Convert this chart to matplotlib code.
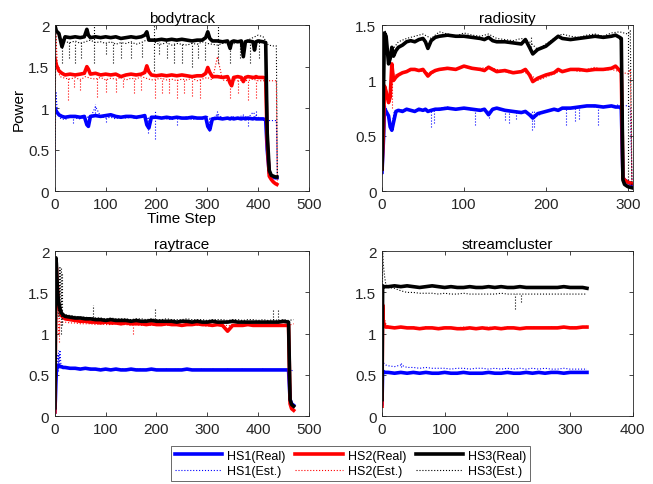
import matplotlib
matplotlib.use('Agg')
import matplotlib.pyplot as plt
from matplotlib.ticker import FuncFormatter

plt.rcParams['font.family'] = ['Liberation Sans', 'DejaVu Sans']

BLUE, RED, BLACK = '#0000ff', '#ff0000', '#000000'
labels = ['HS1(Real)', 'HS2(Real)', 'HS3(Real)', 'HS1(Est.)', 'HS2(Est.)', 'HS3(Est.)']

# ---------------- bodytrack ----------------
bt_t = [0, 3, 8, 14, 20, 30, 40, 50, 58, 63, 66, 70, 80, 90, 100, 110, 120, 130, 140, 150,
        160, 170, 177, 181, 185, 190, 200, 210, 220, 230, 240, 250, 260, 270, 280,
        290, 297, 301, 305, 310, 320, 330, 340, 345, 348, 352, 360, 367, 371, 375,
        380, 390, 393, 396, 400, 410, 415, 418, 422, 426, 430, 434, 437]
bt_hs1 = [1.0, 0.96, 0.92, 0.9, 0.89, 0.9, 0.9, 0.89, 0.9, 0.8,
          0.78, 0.9, 0.91, 0.9, 0.91, 0.92, 0.9, 0.89, 0.9, 0.9,
          0.89, 0.9, 0.91, 0.8, 0.76, 0.89, 0.89, 0.88, 0.89, 0.88,
          0.89, 0.88, 0.88, 0.89, 0.88, 0.88, 0.89, 0.78, 0.74, 0.87,
          0.88, 0.87, 0.88, 0.87, 0.88, 0.87, 0.88, 0.87, 0.88, 0.87,
          0.88, 0.87, 0.88, 0.87, 0.87, 0.87, 0.86, 0.5, 0.22, 0.18,
          0.17, 0.16, 0.16]
bt_hs2 = [1.6, 1.52, 1.45, 1.42, 1.4, 1.41, 1.4, 1.41, 1.42, 1.5,
          1.47, 1.41, 1.42, 1.4, 1.41, 1.4, 1.41, 1.38, 1.4, 1.41,
          1.4, 1.41, 1.43, 1.51, 1.44, 1.4, 1.39, 1.4, 1.39, 1.4,
          1.39, 1.4, 1.39, 1.38, 1.39, 1.39, 1.42, 1.49, 1.43, 1.38,
          1.38, 1.37, 1.38, 1.3, 1.27, 1.37, 1.38, 1.37, 1.32, 1.37,
          1.38, 1.37, 1.37, 1.38, 1.37, 1.37, 1.36, 0.6, 0.18, 0.14,
          0.11, 0.09, 0.08]
bt_hs3 = [2.0, 1.93, 1.9, 1.74, 1.86, 1.85, 1.86, 1.85, 1.86, 1.95,
          1.88, 1.85, 1.86, 1.85, 1.86, 1.85, 1.86, 1.84, 1.85, 1.86,
          1.85, 1.86, 1.88, 1.92, 1.82, 1.82, 1.82, 1.83, 1.82, 1.83,
          1.82, 1.83, 1.82, 1.81, 1.82, 1.82, 1.85, 1.92, 1.84, 1.81,
          1.81, 1.8, 1.81, 1.72, 1.8, 1.81, 1.8, 1.81, 1.62, 1.8,
          1.81, 1.8, 1.7, 1.8, 1.81, 1.8, 1.79, 0.7, 0.25, 0.19,
          0.18, 0.17, 0.17]
bt_est_t = [0, 2, 5, 10, 20, 30, 40, 50, 60, 70, 80, 90, 100, 110, 120, 130, 140, 150,
            160, 170, 180, 190, 200, 210, 220, 230, 240, 250, 260, 270, 280, 290, 300,
            310, 320, 330, 340, 350, 360, 370, 380, 390, 400, 410, 420, 430, 436, 438]
bt_hs1_est = [0.25, 1.2, 0.95, 0.88, 0.86, 0.9, 0.88, 0.87, 0.9, 0.88,
              1.02, 0.9, 0.88, 0.89, 0.87, 0.9, 0.88, 0.89, 0.87, 0.9,
              0.88, 0.86, 0.9, 0.88, 0.87, 0.86, 0.89, 0.87, 0.9, 0.86,
              0.88, 0.87, 0.9, 0.86, 0.93, 0.88, 0.86, 0.9, 0.87, 0.92,
              0.88, 0.95, 0.89, 0.86, 0.85, 0.85, 0.85, 0.15]
bt_hs2_est = [0.3, 1.9, 1.5, 1.38, 1.36, 1.35, 1.37, 1.34, 1.38, 1.36,
              1.35, 1.37, 1.34, 1.36, 1.35, 1.37, 1.34, 1.36, 1.35, 1.38,
              1.36, 1.34, 1.35, 1.36, 1.34, 1.35, 1.33, 1.35, 1.34, 1.36,
              1.33, 1.35, 1.37, 1.34, 1.62, 1.34, 1.33, 1.35, 1.33, 1.34,
              1.33, 1.35, 1.33, 1.33, 1.33, 1.33, 1.33, 0.1]
bt_hs3_est = [0.5, 2.0, 1.9, 1.82, 1.8, 1.79, 1.81, 1.78, 1.8, 1.82,
              1.79, 1.8, 1.78, 1.8, 1.77, 1.79, 1.78, 1.8, 1.77, 1.79,
              1.82, 1.83, 1.78, 1.77, 1.79, 1.76, 1.78, 1.77, 1.76, 1.78,
              1.77, 1.8, 1.78, 1.77, 1.76, 1.78, 1.79, 1.77, 1.8, 1.78,
              1.82, 1.85, 1.88, 1.86, 1.76, 1.75, 1.75, 0.15]
# dotted spikes of the estimates: (time step, low, high)
bt_hs1_dips = [(35, 0.82, 0.9), (65, 0.78, 0.9), (80, 0.9, 1.05), (100, 0.83, 0.9),
               (183, 0.7, 0.9), (198, 0.63, 0.97), (240, 0.8, 0.88), (303, 0.72, 0.88),
               (320, 0.88, 0.96), (380, 0.78, 0.88), (395, 0.88, 0.98)]
bt_hs2_dips = [(25, 1.1, 1.38), (38, 1.25, 1.36), (50, 1.22, 1.36), (82, 1.13, 1.36),
               (100, 1.2, 1.36), (120, 1.2, 1.36), (135, 1.25, 1.36), (155, 1.18, 1.36),
               (170, 1.22, 1.36), (198, 1.12, 1.36), (210, 1.18, 1.36), (225, 1.18, 1.35),
               (240, 1.12, 1.35), (255, 1.18, 1.35), (270, 1.15, 1.35), (285, 1.12, 1.35),
               (345, 1.12, 1.34), (360, 1.18, 1.34), (380, 1.1, 1.34), (395, 1.12, 1.34)]
bt_hs3_dips = [(14, 1.55, 1.85), (28, 1.6, 1.8), (40, 1.55, 1.8), (52, 1.6, 1.8),
               (78, 1.55, 2.0), (100, 1.65, 1.8), (115, 1.55, 1.8), (130, 1.6, 1.8),
               (150, 1.6, 1.8), (172, 1.62, 1.8), (195, 1.45, 2.0), (205, 1.65, 1.8),
               (220, 1.6, 1.78), (235, 1.55, 1.78), (250, 1.55, 1.78), (270, 1.5, 1.78),
               (282, 1.6, 1.78), (295, 1.58, 1.78), (322, 1.55, 2.0), (345, 1.55, 1.78),
               (365, 1.6, 1.78), (385, 1.55, 1.8), (402, 1.6, 1.85)]

# ---------------- radiosity ----------------
rd_t = [0, 2, 3, 5, 8, 10, 12, 14, 17, 20, 25, 30, 35, 40, 45, 50, 53, 56, 60, 65,
        70, 80, 90, 100, 110, 120, 125, 130, 135, 140, 150, 160, 170, 175, 180,
        184, 190, 200, 210, 215, 220, 230, 240, 250, 260, 270, 280, 285, 290, 292,
        294, 296, 300, 305]
rd_hs1 = [0.17, 0.5, 0.75, 0.72, 0.68, 0.58, 0.55, 0.62, 0.72, 0.73,
          0.72, 0.74, 0.73, 0.72, 0.74, 0.73, 0.74, 0.72, 0.73, 0.74,
          0.74, 0.75, 0.74, 0.75, 0.74, 0.73, 0.74, 0.69, 0.74, 0.75,
          0.73, 0.72, 0.71, 0.72, 0.69, 0.66, 0.7, 0.72, 0.74, 0.73,
          0.75, 0.75, 0.76, 0.77, 0.77, 0.76, 0.77, 0.76, 0.76, 0.75,
          0.12, 0.1, 0.08, 0.06]
rd_hs2 = [0.2, 0.6, 0.95, 0.9, 0.8, 0.85, 1.15, 1.0, 1.03, 1.05,
          1.07, 1.08, 1.1, 1.1, 1.09, 1.1, 1.07, 1.04, 1.07, 1.09,
          1.1, 1.11, 1.1, 1.13, 1.11, 1.1, 1.09, 1.12, 1.1, 1.08,
          1.09, 1.07, 1.08, 1.1, 1.05, 0.99, 1.02, 1.05, 1.07, 1.1,
          1.08, 1.1, 1.1, 1.09, 1.1, 1.1, 1.11, 1.13, 1.09, 1.08,
          0.12, 0.1, 0.08, 0.07]
rd_hs3 = [0.2, 1.0, 1.43, 1.4, 1.15, 1.2, 1.3, 1.22, 1.27, 1.3,
          1.32, 1.35, 1.36, 1.35, 1.37, 1.38, 1.35, 1.29, 1.36, 1.39,
          1.4, 1.41, 1.4, 1.4, 1.39, 1.38, 1.37, 1.39, 1.36, 1.35,
          1.35, 1.34, 1.33, 1.37, 1.3, 1.24, 1.28, 1.31, 1.37, 1.4,
          1.38, 1.37, 1.38, 1.39, 1.4, 1.39, 1.4, 1.41, 1.39, 1.38,
          0.1, 0.06, 0.04, 0.03]
rd_est_t = [0, 2, 4, 6, 9, 12, 15, 20, 30, 40, 50, 60, 70, 80, 90, 100, 110, 120, 130,
            140, 150, 160, 170, 180, 190, 200, 210, 220, 230, 240, 250, 260, 270, 280,
            290, 300, 303, 305]
rd_hs1_est = [0.15, 0.45, 0.78, 0.7, 0.62, 0.6, 0.72, 0.73, 0.74, 0.72,
              0.73, 0.72, 0.75, 0.76, 0.74, 0.75, 0.73, 0.74, 0.72, 0.74,
              0.73, 0.72, 0.72, 0.7, 0.68, 0.72, 0.73, 0.74, 0.75, 0.75,
              0.77, 0.76, 0.76, 0.77, 0.78, 0.77, 0.76, 0.1]
rd_hs2_est = [0.15, 0.5, 0.9, 0.85, 0.8, 1.1, 1.05, 1.06, 1.08, 1.1,
              1.08, 1.06, 1.1, 1.12, 1.1, 1.13, 1.1, 1.11, 1.12, 1.1,
              1.08, 1.06, 1.08, 1.06, 1.0, 1.03, 1.06, 1.09, 1.1, 1.08,
              1.1, 1.12, 1.09, 1.1, 1.08, 1.06, 1.1, 0.08]
rd_hs3_est = [0.2, 1.1, 1.45, 1.35, 1.2, 1.3, 1.3, 1.35, 1.38, 1.4,
              1.42, 1.38, 1.44, 1.42, 1.4, 1.43, 1.41, 1.4, 1.42, 1.38,
              1.37, 1.36, 1.38, 1.35, 1.28, 1.33, 1.38, 1.42, 1.4, 1.39,
              1.41, 1.42, 1.4, 1.43, 1.44, 1.42, 1.45, 0.05]
rd_hs1_dips = [(60, 0.58, 0.73), (63, 0.62, 0.73), (113, 0.6, 0.74), (130, 0.66, 0.73),
               (150, 0.64, 0.73), (155, 0.62, 0.73), (163, 0.65, 0.73), (183, 0.55, 0.72),
               (186, 0.58, 0.72), (225, 0.6, 0.74), (236, 0.63, 0.75), (240, 0.65, 0.75),
               (263, 0.6, 0.76)]
rd_hs2_dips = [(12, 0.75, 1.12)]
rd_hs3_dips = [(182, 1.25, 1.4), (300, 0.1, 1.45)]

# ---------------- raytrace ----------------
rt_t = [0, 1, 2, 3, 5, 7, 10, 13, 16, 20, 30, 40, 50, 60, 70, 80, 90, 100, 110, 120,
        130, 140, 150, 160, 170, 180, 190, 200, 210, 220, 230, 240, 250, 260, 270,
        280, 290, 300, 310, 320, 330, 340, 350, 360, 370, 380, 390, 400, 410, 420,
        430, 440, 450, 460, 463, 466, 470]
rt_hs1 = [0.05, 0.2, 0.4, 0.55, 0.6, 0.62, 0.6, 0.6, 0.59,
          0.59, 0.58, 0.58, 0.57, 0.58, 0.57, 0.57, 0.56, 0.57, 0.56,
          0.57, 0.56, 0.56, 0.57, 0.56, 0.56, 0.56, 0.57, 0.56, 0.56,
          0.56, 0.56, 0.56, 0.56, 0.57, 0.56, 0.56, 0.56, 0.56, 0.56,
          0.56, 0.56, 0.56, 0.56, 0.56, 0.56, 0.56, 0.56, 0.56, 0.56,
          0.56, 0.56, 0.56, 0.56, 0.56, 0.2, 0.15, 0.13]
rt_hs2 = [0.05, 0.8, 1.7, 1.8, 1.5, 1.35, 1.28, 1.22, 1.2,
          1.18, 1.17, 1.16, 1.15, 1.15, 1.14, 1.14, 1.13, 1.14, 1.13,
          1.13, 1.12, 1.13, 1.12, 1.12, 1.12, 1.11, 1.12, 1.11, 1.11,
          1.12, 1.11, 1.11, 1.1, 1.11, 1.11, 1.12, 1.11, 1.11, 1.1,
          1.11, 1.1, 1.03, 1.1, 1.1, 1.1, 1.11, 1.1, 1.1, 1.1,
          1.1, 1.1, 1.1, 1.1, 1.1, 0.15, 0.09, 0.07]
rt_hs3 = [0.1, 1.0, 1.92, 1.85, 1.55, 1.4, 1.3, 1.25, 1.23,
          1.21, 1.2, 1.19, 1.19, 1.18, 1.18, 1.17, 1.17, 1.16, 1.17,
          1.16, 1.16, 1.16, 1.15, 1.16, 1.15, 1.15, 1.16, 1.15, 1.15,
          1.15, 1.15, 1.14, 1.15, 1.15, 1.14, 1.15, 1.14, 1.14, 1.15,
          1.14, 1.14, 1.14, 1.15, 1.14, 1.14, 1.14, 1.14, 1.14, 1.14,
          1.14, 1.14, 1.14, 1.15, 1.14, 0.2, 0.14, 0.12]
rt_est_t = [0, 2, 4, 6, 8, 10, 12, 15, 20, 30, 40, 50, 60, 70, 80, 90, 100, 110, 120,
            130, 140, 150, 160, 170, 180, 190, 200, 210, 220, 230, 240, 250, 260, 270,
            280, 290, 300, 310, 320, 330, 340, 350, 360, 370, 380, 390, 400, 410, 420,
            430, 440, 450, 460, 470]
rt_hs1_est = [0.05, 0.3, 0.6, 0.75, 0.65, 0.8, 0.62, 0.6,
              0.59, 0.58, 0.59, 0.58, 0.57, 0.58, 0.57, 0.58, 0.57, 0.57,
              0.58, 0.57, 0.57, 0.56, 0.57, 0.57, 0.56, 0.57, 0.57, 0.56,
              0.57, 0.56, 0.57, 0.56, 0.57, 0.56, 0.56, 0.57, 0.56, 0.57,
              0.56, 0.56, 0.57, 0.56, 0.56, 0.57, 0.56, 0.56, 0.56, 0.57,
              0.56, 0.56, 0.56, 0.56, 0.56, 0.55]
rt_hs2_est = [0.05, 1.5, 1.6, 1.2, 1.0, 1.1, 1.15, 1.14,
              1.14, 1.13, 1.13, 1.12, 1.12, 1.12, 1.11, 1.12, 1.11, 1.11,
              1.12, 1.11, 1.11, 1.1, 1.11, 1.1, 1.11, 1.1, 1.1, 1.11,
              1.1, 1.1, 1.1, 1.11, 1.1, 1.1, 1.1, 1.1, 1.09, 1.1,
              1.1, 1.1, 1.1, 1.09, 1.1, 1.1, 1.1, 1.1, 1.09, 1.1,
              1.1, 1.1, 1.1, 1.1, 1.1, 1.12]
rt_hs3_est = [0.1, 1.7, 1.8, 1.5, 1.2, 1.8, 1.3, 1.25,
              1.23, 1.22, 1.21, 1.2, 1.2, 1.19, 1.19, 1.19, 1.18, 1.19,
              1.18, 1.18, 1.18, 1.17, 1.18, 1.18, 1.17, 1.18, 1.17, 1.17,
              1.18, 1.17, 1.17, 1.17, 1.18, 1.17, 1.17, 1.17, 1.16, 1.17,
              1.17, 1.17, 1.16, 1.17, 1.17, 1.16, 1.17, 1.17, 1.16, 1.17,
              1.16, 1.17, 1.16, 1.17, 1.16, 1.17]
rt_hs1_dips = [(6, 0.55, 0.8), (9, 0.6, 0.75)]
rt_hs2_dips = [(153, 1.0, 1.1), (8, 0.9, 1.6)]
rt_hs3_dips = [(12, 1.0, 1.8), (14, 1.1, 1.75), (75, 1.2, 1.35), (198, 1.18, 1.3),
               (430, 1.17, 1.3), (440, 1.17, 1.3)]

# ---------------- streamcluster ----------------
sc_t = [0, 1, 2, 4, 6, 10, 20, 30, 40, 50, 60, 70, 80, 90, 100, 110, 120, 130, 140,
        150, 160, 170, 180, 190, 200, 210, 220, 230, 240, 250, 260, 270, 280, 290,
        300, 310, 320, 327]
sc_hs1 = [0.15, 0.55, 0.54, 0.53, 0.53, 0.53, 0.52, 0.53, 0.52, 0.53,
          0.52, 0.53, 0.52, 0.52, 0.53, 0.52, 0.52, 0.53, 0.52, 0.52,
          0.52, 0.53, 0.52, 0.52, 0.53, 0.52, 0.52, 0.53, 0.52, 0.53,
          0.52, 0.53, 0.53, 0.52, 0.53, 0.53, 0.53, 0.53]
sc_hs2 = [0.12, 1.35, 1.15, 1.1, 1.08, 1.08, 1.07, 1.08, 1.07, 1.07,
          1.06, 1.07, 1.07, 1.06, 1.07, 1.07, 1.06, 1.06, 1.07, 1.06,
          1.07, 1.06, 1.07, 1.06, 1.07, 1.07, 1.06, 1.07, 1.07, 1.07,
          1.07, 1.07, 1.07, 1.08, 1.07, 1.07, 1.08, 1.08]
sc_hs3 = [0.2, 1.58, 1.57, 1.57, 1.57, 1.57, 1.58, 1.57, 1.58, 1.57,
          1.56, 1.57, 1.58, 1.57, 1.56, 1.57, 1.56, 1.56, 1.57, 1.56,
          1.56, 1.57, 1.56, 1.57, 1.56, 1.56, 1.57, 1.56, 1.56, 1.56,
          1.56, 1.56, 1.56, 1.57, 1.56, 1.56, 1.56, 1.55]
sc_hs1_est = [0.15, 0.7, 0.65, 0.63, 0.62, 0.61, 0.6, 0.62, 0.59, 0.59,
              0.58, 0.59, 0.58, 0.58, 0.58, 0.57, 0.58, 0.58, 0.57, 0.58,
              0.58, 0.57, 0.58, 0.57, 0.58, 0.57, 0.58, 0.57, 0.58, 0.57,
              0.58, 0.57, 0.57, 0.58, 0.57, 0.57, 0.57, 0.57]
sc_hs2_est = [0.12, 1.3, 1.22, 1.18, 1.12, 1.09, 1.08, 1.08, 1.07, 1.08,
              1.07, 1.08, 1.07, 1.07, 1.08, 1.07, 1.07, 1.08, 1.07, 1.07,
              1.07, 1.08, 1.07, 1.07, 1.08, 1.07, 1.07, 1.07, 1.08, 1.07,
              1.07, 1.08, 1.07, 1.07, 1.08, 1.08, 1.08, 1.09]
sc_hs3_est = [0.2, 2.0, 1.85, 1.7, 1.6, 1.56, 1.55, 1.52, 1.5, 1.5,
              1.49, 1.49, 1.49, 1.48, 1.49, 1.48, 1.48, 1.49, 1.48, 1.48,
              1.48, 1.48, 1.48, 1.49, 1.48, 1.48, 1.48, 1.48, 1.48, 1.48,
              1.48, 1.48, 1.48, 1.48, 1.48, 1.48, 1.48, 1.48]
sc_hs1_dips = [(30, 0.6, 0.65)]
sc_hs2_dips = []
sc_hs3_dips = [(212, 1.3, 1.48), (222, 1.38, 1.48)]

panels = [
    ('bodytrack', 500, 2.0, [0, 0.5, 1, 1.5, 2], bt_t, [bt_hs1, bt_hs2, bt_hs3], bt_est_t,
     [bt_hs1_est, bt_hs2_est, bt_hs3_est], [bt_hs1_dips, bt_hs2_dips, bt_hs3_dips]),
    ('radiosity', 306, 1.5, [0, 0.5, 1, 1.5], rd_t, [rd_hs1, rd_hs2, rd_hs3], rd_est_t,
     [rd_hs1_est, rd_hs2_est, rd_hs3_est], [rd_hs1_dips, rd_hs2_dips, rd_hs3_dips]),
    ('raytrace', 500, 2.0, [0, 0.5, 1, 1.5, 2], rt_t, [rt_hs1, rt_hs2, rt_hs3], rt_est_t,
     [rt_hs1_est, rt_hs2_est, rt_hs3_est], [rt_hs1_dips, rt_hs2_dips, rt_hs3_dips]),
    ('streamcluster', 400, 2.0, [0, 0.5, 1, 1.5, 2], sc_t, [sc_hs1, sc_hs2, sc_hs3], sc_t,
     [sc_hs1_est, sc_hs2_est, sc_hs3_est], [sc_hs1_dips, sc_hs2_dips, sc_hs3_dips]),
]

# axes boxes in figure fractions (left, bottom, width, height)
boxes = [(0.084, 0.604, 0.389, 0.342), (0.585, 0.604, 0.384, 0.342),
         (0.084, 0.140, 0.389, 0.340), (0.585, 0.140, 0.384, 0.340)]

fig = plt.figure(figsize=(6.53, 4.85), dpi=100)
fmt = FuncFormatter(lambda v, p: '%g' % v)
handles_real, handles_est = [], []

for (title, xmax, ymax, yticks, t, reals, et, ests, dips), box in zip(panels, boxes):
    ax = fig.add_axes(box)
    for col, real, est, dip in zip([BLUE, RED, BLACK], reals, ests, dips):
        hr, = ax.plot(t, real, color=col, lw=2.6, solid_joinstyle='round')
        he, = ax.plot(et, est, color=col, lw=0.8, ls=':')
        if dip:
            ax.vlines([d[0] for d in dip], [d[1] for d in dip], [d[2] for d in dip],
                      colors=col, lw=0.8, linestyles=':')
        if title == 'bodytrack':
            handles_real.append(hr)
            handles_est.append(he)
    ax.set_xlim(0, xmax)
    ax.set_ylim(0, ymax)
    ax.set_yticks(yticks)
    ax.xaxis.set_major_formatter(fmt)
    ax.yaxis.set_major_formatter(fmt)
    ax.tick_params(direction='in', top=True, right=True, labelsize=11, length=3,
                   width=0.6, pad=4, colors='#262626')
    for s in ax.spines.values():
        s.set_linewidth(0.6)
        s.set_color('#262626')
    ax.set_title(title, fontsize=11, pad=2)
    if title == 'bodytrack':
        ax.set_ylabel('Power', fontsize=11, labelpad=2)
        ax.set_xlabel('Time Step', fontsize=11, labelpad=0)

hs = []
for r, e in zip(handles_real, handles_est):
    hs += [r, e]
lb = []
for i in range(3):
    lb += [labels[i], labels[i + 3]]
# legend box spans x 171..530 px, top at y 447 px
leg = fig.legend(hs, lb, loc='upper left', mode='expand',
                 bbox_to_anchor=(171 / 653, 0.0, 359 / 653, 1 - 447 / 485), ncol=3,
                 fontsize=9, frameon=True, fancybox=False, handlelength=3.8,
                 columnspacing=0.8, handletextpad=0.4, labelspacing=0.3,
                 borderpad=0.3, borderaxespad=0, edgecolor='#262626')
leg.get_frame().set_linewidth(0.6)

fig.savefig('out.png', dpi=100)
